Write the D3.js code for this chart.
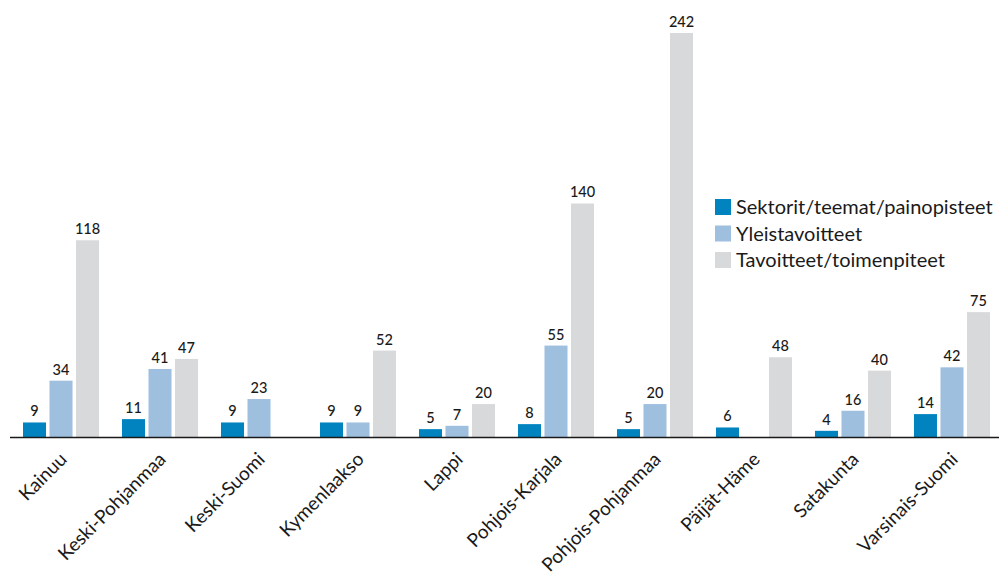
<!DOCTYPE html>
<html>
<head>
<meta charset="utf-8">
<script src="https://cdn.jsdelivr.net/npm/d3@7"></script>
<style>
  html, body { margin: 0; padding: 0; background: #fff; }
  svg { display: block; font-family: Lato, "Open Sans", sans-serif; }
</style>
</head>
<body>
<svg id="chart" width="999" height="577"></svg>
<script>
// Regions and the three counted levels
const regions = ["Kainuu", "Keski-Pohjanmaa", "Keski-Suomi", "Kymenlaakso", "Lappi",
  "Pohjois-Karjala", "Pohjois-Pohjanmaa", "Päijät-Häme", "Satakunta", "Varsinais-Suomi"];
const seriesNames = ["Sektorit/teemat/painopisteet", "Yleistavoitteet", "Tavoitteet/toimenpiteet"];
const sektorit     = [9, 11, 9, 9, 5, 8, 5, 6, 4, 14];
const yleistavoitteet = [34, 41, 23, 9, 7, 55, 20, null, 16, 42];
const tavoitteet   = [118, 47, null, 52, 20, 140, 242, 48, 40, 75];
const colors = ["#0083bf", "#9fbfdf", "#d8d9db"];

const seriesValues = [sektorit, yleistavoitteet, tavoitteet];
const rows = regions.map((r, i) => ({
  region: r,
  values: seriesNames.map((s, k) => ({ series: s, k, value: seriesValues[k][i] }))
}));

const svg = d3.select("#chart");
const baseY = 437.5;

const x0 = d3.scaleBand().domain(regions).range([23, 990]).paddingInner(0.232).paddingOuter(0).align(0);
const x1 = d3.scaleBand().domain(seriesNames).range([0, x0.bandwidth()]).paddingInner(0.132).paddingOuter(0);
const y = d3.scaleLinear().domain([0, 242]).range([baseY, 33]);

const groups = svg.append("g").selectAll("g")
  .data(rows).join("g")
  .attr("transform", d => `translate(${x0(d.region)},0)`);

const present = groups.selectAll("g.bar")
  .data(d => d.values.filter(v => v.value != null))
  .join("g").attr("class", "bar");

present.append("rect")
  .attr("x", d => x1(d.series))
  .attr("width", x1.bandwidth())
  .attr("y", d => y(d.value))
  .attr("height", d => baseY - y(d.value))
  .attr("fill", d => colors[d.k]);

present.append("text")
  .attr("x", d => x1(d.series) + x1.bandwidth() / 2)
  .attr("y", d => y(d.value) - 6)
  .attr("text-anchor", "middle")
  .attr("font-size", 14.5)
  .attr("font-weight", 500)
  .attr("fill", "#1a1a1a")
  .text(d => d.value);

// Baseline axis
const xAxis = d3.axisBottom(x0).tickSize(0).tickPadding(0);
const axisG = svg.append("g").attr("transform", `translate(0,${baseY})`).call(xAxis);
axisG.select(".domain").remove();
axisG.append("line")
  .attr("x1", 10).attr("x2", 999).attr("y1", 0).attr("y2", 0)
  .attr("stroke", "#1a1a1a").attr("stroke-width", 1.6);
axisG.selectAll(".tick text")
  .attr("font-size", 19)
  .attr("font-family", "Lato, 'Open Sans', sans-serif")
  .attr("fill", "#1a1a1a")
  .attr("text-anchor", "end")
  .attr("dy", 0)
  .attr("y", 0)
  .attr("transform", "translate(7,23) rotate(-45)");

// Legend
const legend = svg.append("g").attr("transform", "translate(715,207)");
const items = legend.selectAll("g").data(seriesNames).join("g")
  .attr("transform", (d, i) => `translate(0,${i * 26.5})`);
items.append("rect").attr("x", 0).attr("y", -8).attr("width", 16).attr("height", 16)
  .attr("fill", (d, i) => colors[i]);
items.append("text").attr("x", 21).attr("y", 0).attr("dy", "0.36em")
  .attr("font-size", 20).attr("fill", "#1a1a1a").text(d => d);
</script>
</body>
</html>
